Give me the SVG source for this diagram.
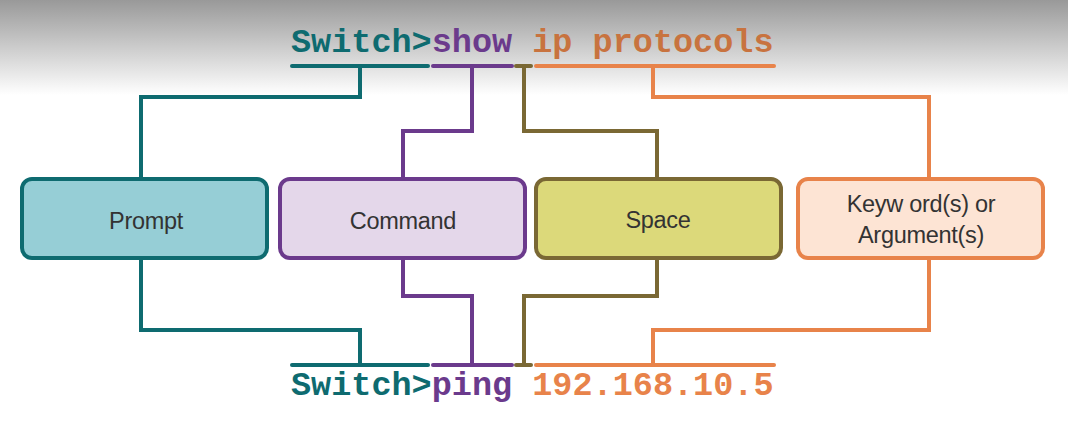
<svg xmlns="http://www.w3.org/2000/svg" width="1068" height="425" viewBox="0 0 1068 425">
<defs>
<linearGradient id="bg" x1="0" y1="0" x2="0" y2="1">
<stop offset="0" stop-color="#999999"/>
<stop offset="1" stop-color="#ffffff"/>
</linearGradient>
</defs>
<style>
.cmd{font-family:"Liberation Mono","Courier New",monospace;font-weight:bold;font-size:33.5px}
.lbl{font-family:"Liberation Sans",Arial,sans-serif;font-size:23.5px;fill:#333333;text-anchor:middle;letter-spacing:-0.3px}
.box{stroke-width:4}
.ln{fill:none;stroke-width:4;stroke-linecap:round;stroke-linejoin:miter}
.teal{stroke:#0e6b70}
.purp{stroke:#6b3a8c}
.oliv{stroke:#7a6834}
.oran{stroke:#e8834a}
</style>
<rect x="0" y="0" width="1068" height="95" fill="url(#bg)"/>
<rect x="0" y="95" width="1068" height="330" fill="#ffffff"/>

<g id="top-command">
<text class="cmd" x="291" y="52"><tspan fill="#0e6b70">Switch&gt;</tspan><tspan fill="#6b3a8c">show</tspan><tspan fill="#c8733f"> ip protocols</tspan></text>
</g>
<g id="bottom-command">
<text class="cmd" x="291" y="395"><tspan fill="#0e6b70">Switch&gt;</tspan><tspan fill="#6b3a8c">ping</tspan><tspan fill="#e8834a"> 192.168.10.5</tspan></text>
</g>

<g id="connectors">
<line class="ln teal" x1="292" y1="66" x2="428" y2="66"/>
<line class="ln purp" x1="433" y1="66" x2="512" y2="66"/>
<line class="ln oliv" x1="516" y1="66" x2="531" y2="66"/>
<line class="ln oran" x1="536" y1="66" x2="774" y2="66"/>
<line class="ln teal" x1="292" y1="365" x2="428" y2="365"/>
<line class="ln purp" x1="433" y1="365" x2="512" y2="365"/>
<line class="ln oliv" x1="516" y1="365" x2="531" y2="365"/>
<line class="ln oran" x1="536" y1="365" x2="774" y2="365"/>
<polyline class="ln teal" points="360,66 360,97 141,97 141,178"/>
<polyline class="ln purp" points="472,66 472,131 403,131 403,178"/>
<polyline class="ln oliv" points="524,66 524,131 657,131 657,178"/>
<polyline class="ln oran" points="653,66 653,97 929,97 929,178"/>
<polyline class="ln teal" points="141,258 141,330 360,330 360,365"/>
<polyline class="ln purp" points="403,258 403,296 472,296 472,365"/>
<polyline class="ln oliv" points="657,258 657,296 524,296 524,365"/>
<polyline class="ln oran" points="929,258 929,330 653,330 653,365"/>
</g>

<g id="prompt">
<rect class="box" x="22" y="179" width="245" height="79" rx="10" fill="#96ced6" stroke="#0e6b70"/>
<text class="lbl" x="146" y="229">Prompt</text>
</g>
<g id="command">
<rect class="box" x="280" y="179" width="245" height="79" rx="10" fill="#e4d7ea" stroke="#6b3a8c"/>
<text class="lbl" x="403" y="229">Command</text>
</g>
<g id="space">
<rect class="box" x="536" y="179" width="245" height="79" rx="10" fill="#dcd97a" stroke="#7a6834"/>
<text class="lbl" x="658" y="228">Space</text>
</g>
<g id="keyword">
<rect class="box" x="798" y="179" width="245" height="79" rx="10" fill="#fde4d4" stroke="#e8834a"/>
<text class="lbl" x="921" y="212">Keyw ord(s) or</text>
<text class="lbl" x="921" y="243">Argument(s)</text>
</g>
</svg>
